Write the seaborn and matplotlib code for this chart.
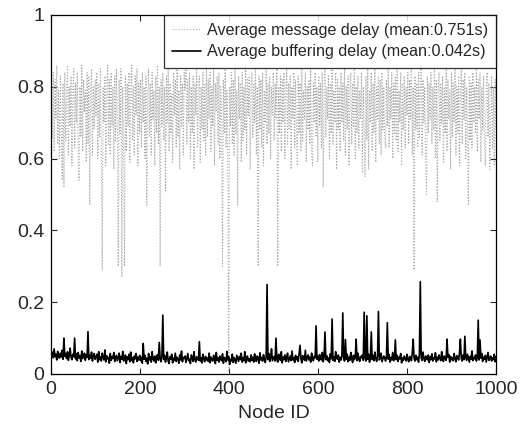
import numpy as np
import pandas as pd
import matplotlib
matplotlib.use("Agg")
import matplotlib.pyplot as plt
import seaborn as sns

# Node IDs (every second node sampled)
node_ids = list(range(1, 1000, 2))

# Average message delay (hundredths of a second)
message_delay_cs = [
    80,66,84,62,82,71,86,64,79,60,83,68,54,81,52,84,65,78,86,61,80,69,83,58,79,
    85,63,81,70,84,60,54,80,66,86,62,82,73,79,59,84,64,83,47,78,85,61,80,68,82,
    72,84,60,81,66,85,63,29,80,70,83,58,79,86,64,82,61,84,69,80,57,83,65,85,71,
    30,82,67,85,27,80,63,30,83,62,81,69,84,59,79,86,65,80,61,83,72,85,58,81,67,
    82,63,84,70,80,60,83,47,78,85,66,81,61,84,71,79,58,83,67,86,64,80,30,82,69,
    84,65,80,51,83,70,85,62,81,67,78,59,84,72,82,63,85,66,79,57,83,69,81,61,84,
    79,85,64,82,70,84,60,80,67,83,57,81,72,85,63,78,83,59,80,68,84,65,81,61,85,
    66,82,71,84,62,80,69,85,58,81,73,83,64,84,60,80,70,30,82,67,85,63,79,62,1,
    80,69,84,64,82,61,85,67,79,47,83,71,81,59,84,65,80,68,86,61,82,72,83,57,80,
    84,66,81,70,85,61,80,30,83,68,82,63,84,58,79,70,85,64,81,67,83,60,80,72,84,
    65,81,71,85,30,80,67,83,62,82,70,84,60,79,85,64,81,68,83,57,80,71,84,63,82,
    69,58,83,67,81,62,85,65,79,71,84,59,80,68,82,64,85,61,58,81,70,84,66,80,59,
    83,69,81,63,84,52,79,85,66,80,71,83,60,81,67,85,64,79,70,84,57,82,68,80,62,
    84,70,81,65,85,61,80,68,83,58,79,84,64,81,69,85,60,80,67,83,63,79,71,84,56,
    80,68,55,83,65,85,57,79,70,84,62,81,67,85,59,80,71,83,64,82,61,84,68,80,66,
    63,82,69,85,63,80,71,84,60,81,67,83,65,85,62,79,70,84,58,81,68,83,63,80,72,
    84,64,82,71,85,61,80,29,83,68,81,63,84,66,79,86,61,82,70,80,59,50,83,67,81,
    71,84,64,80,68,85,60,82,48,79,84,65,81,70,83,59,80,67,85,62,82,71,79,57,84,
    66,81,70,85,61,80,67,83,58,79,85,64,82,71,84,60,80,68,47,83,65,81,63,84,70,
    80,67,85,62,82,71,84,59,80,68,83,64,58,79,84,66,81,57,70,83,63,80,58,82,68,
]

# Average buffering delay (milliseconds)
buffering_delay_ms = [
    52,61,45,70,48,55,39,63,50,44,58,47,66,41,100,49,57,43,62,38,53,72,46,40,55,
    48,100,42,56,37,60,45,51,35,64,43,49,58,38,54,46,118,40,52,44,61,36,50,57,41,
    47,55,33,62,40,48,36,58,44,39,67,34,51,42,46,30,57,38,49,43,60,35,45,52,37,
    44,58,32,49,41,63,36,46,53,29,48,40,55,34,61,38,45,31,50,42,57,35,47,39,52,
    37,46,30,85,41,52,35,44,28,57,39,48,33,62,42,36,50,31,45,54,38,88,43,34,49,
    164,40,52,33,45,61,36,29,48,42,55,31,44,38,58,35,47,41,30,53,39,64,34,46,43,
    50,32,44,57,37,41,29,53,46,35,62,40,33,48,43,38,90,36,45,31,55,42,34,49,39,
    44,35,58,31,47,40,36,52,43,29,60,38,45,33,50,41,37,56,30,46,42,34,63,39,48,
    27,41,36,55,32,46,38,30,52,43,35,49,40,58,33,45,37,62,31,44,50,36,42,34,53,
    38,47,33,56,41,35,50,44,30,59,39,46,36,54,42,32,48,249,40,57,35,45,70,37,43,
    49,36,100,41,33,55,44,38,62,31,47,40,53,35,45,58,34,42,50,37,64,39,46,32,52,
    40,48,35,57,80,43,31,51,46,38,66,36,44,53,39,47,33,58,42,37,49,45,134,41,50,
    36,54,43,39,60,34,46,117,40,51,37,45,32,56,42,153,38,48,35,62,44,41,53,33,47,
    39,50,170,43,36,96,41,55,34,47,38,60,44,32,52,40,46,97,37,58,42,35,49,45,53,
    38,172,44,36,162,41,55,33,47,117,40,52,37,61,43,35,49,174,39,46,58,34,42,50,45,
    36,48,143,41,54,33,46,39,60,37,44,95,40,52,35,47,42,57,31,45,38,50,43,36,55,
    41,34,49,45,37,58,97,43,36,52,40,47,33,55,257,44,38,61,42,35,50,46,39,53,32,
    48,40,56,36,45,42,59,34,47,39,53,44,37,62,41,35,50,43,38,97,46,54,33,49,40,
    45,37,57,42,34,51,46,39,60,97,43,36,53,40,105,47,38,55,44,33,49,41,64,37,46,
    42,53,36,48,150,39,95,44,57,35,47,41,52,33,46,60,38,43,50,36,45,40,55,34,48,
]

series_labels = ["Average message delay (mean:0.751s)",
                 "Average buffering delay (mean:0.042s)"]
x_ticks = [0, 200, 400, 600, 800, 1000]
y_ticks = [0, 0.2, 0.4, 0.6, 0.8, 1]
y_tick_labels = ["0", "0.2", "0.4", "0.6", "0.8", "1"]

df = pd.DataFrame({
    "node": node_ids,
    "msg": np.array(message_delay_cs) / 100.0,
    "buf": np.array(buffering_delay_ms) / 1000.0,
})

sns.set_style("white")
plt.rcParams["font.family"] = ["Liberation Sans", "DejaVu Sans"]

fig = plt.figure(figsize=(5.28, 4.32), dpi=100)
ax = fig.add_axes([0.0966, 0.1343, 0.8437, 0.831])

sns.lineplot(data=df, x="node", y="msg", ax=ax, color="#a8a8a8",
             linestyle=":", linewidth=0.8, estimator=None,
             label=series_labels[0])
sns.lineplot(data=df, x="node", y="buf", ax=ax, color="black",
             linewidth=1.2, estimator=None, label=series_labels[1])

ax.set_xlim(0, 1000)
ax.set_ylim(0, 1)
ax.set_xticks(x_ticks)
ax.set_xticklabels([str(t) for t in x_ticks])
ax.set_yticks(y_ticks)
ax.set_yticklabels(y_tick_labels)
ax.set_xlabel("Node ID", fontsize=14, labelpad=5)
ax.set_ylabel("")
ax.tick_params(direction="in", length=4, width=0.8, labelsize=14,
               top=True, right=True, bottom=True, left=True, pad=5)
for s in ax.spines.values():
    s.set_visible(True)
    s.set_color("black")
    s.set_linewidth(0.9)

leg = ax.legend(loc="upper right", fontsize=11.6, frameon=True,
                borderaxespad=0, borderpad=0.5, handlelength=1.8,
                handletextpad=0.4, labelspacing=0.4, fancybox=False)
leg.get_frame().set_edgecolor("black")
leg.get_frame().set_linewidth(0.9)

fig.savefig("out.png", dpi=100)
